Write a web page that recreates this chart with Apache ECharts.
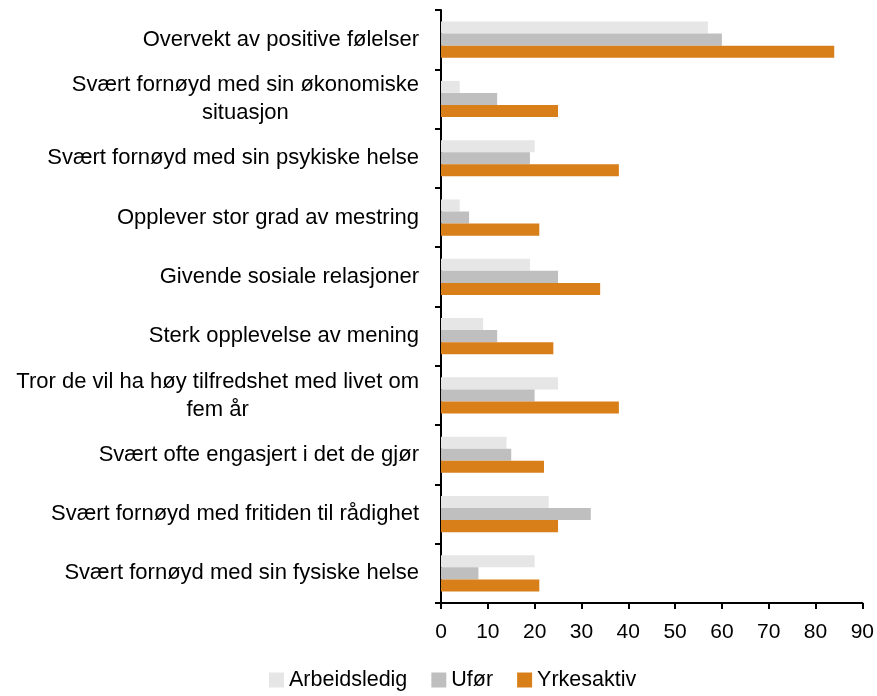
<!DOCTYPE html>
<html lang="no">
<head>
    <meta charset="UTF-8">
    <title>Chart</title>
    <script src="https://cdn.jsdelivr.net/npm/echarts@6/dist/echarts.min.js"></script>
    <style>
        html, body { margin: 0; padding: 0; background: #fff; }
    </style>
</head>
<body>
    <div id="main" style="width: 877px; height: 696px;"></div>
    <script>
        // categories top to bottom
        const categories = [
            "Overvekt av positive følelser",
            "Svært fornøyd med sin økonomiske\nsituasjon",
            "Svært fornøyd med sin psykiske helse",
            "Opplever stor grad av mestring",
            "Givende sosiale relasjoner",
            "Sterk opplevelse av mening",
            "Tror de vil ha høy tilfredshet med livet om\nfem år",
            "Svært ofte engasjert i det de gjør",
            "Svært fornøyd med fritiden til rådighet",
            "Svært fornøyd med sin fysiske helse"
        ];
        const seriesNames = ["Arbeidsledig", "Ufør", "Yrkesaktiv"];
        const arbeidsledig = [57, 4, 20, 4, 19, 9, 25, 14, 23, 20];
        const ufor = [60, 12, 19, 6, 25, 12, 20, 15, 32, 8];
        const yrkesaktiv = [84, 25, 38, 21, 34, 24, 38, 22, 25, 21];
        const xTicks = [0, 10, 20, 30, 40, 50, 60, 70, 80, 90];

        const colors = ["#e6e6e6", "#bfbfbf", "#d97f19"];
        const font = "Liberation Sans";

        const chart = echarts.init(document.getElementById("main"));
        const option = {
            animation: false,
            grid: { left: 441, right: 14, top: 10, bottom: 93 },
            legend: {
                bottom: 0,
                left: 264,
                itemWidth: 15,
                itemHeight: 15,
                itemGap: 24,
                icon: "rect",
                textStyle: { fontFamily: font, fontSize: 21.5, color: "#000" },
                data: seriesNames
            },
            xAxis: {
                type: "value",
                min: xTicks[0],
                max: xTicks[xTicks.length - 1],
                interval: 10,
                splitLine: { show: false },
                axisLine: { show: true, lineStyle: { color: "#000", width: 2 } },
                axisTick: { show: true, length: 6, lineStyle: { color: "#000", width: 2 } },
                axisLabel: { fontFamily: font, fontSize: 21, color: "#000", margin: 19 }
            },
            yAxis: {
                type: "category",
                inverse: true,
                data: categories,
                axisLine: { lineStyle: { color: "#000", width: 2 } },
                axisTick: { show: true, length: 6, lineStyle: { color: "#000", width: 2 } },
                axisLabel: {
                    margin: 22,
                    color: "#000",
                    fontFamily: font,
                    fontSize: 22,
                    lineHeight: 28,
                    formatter: function (v) {
                        if (v.indexOf("\n") < 0) return v;
                        return v.split("\n").map(s => "{c|" + s + "}").join("\n");
                    },
                    rich: {
                        c: { align: "center", fontFamily: font, fontSize: 22, lineHeight: 28, color: "#000" }
                    }
                }
            },
            series: [
                { name: seriesNames[0], data: arbeidsledig },
                { name: seriesNames[1], data: ufor },
                { name: seriesNames[2], data: yrkesaktiv }
            ].map((s, i) => Object.assign({
                type: "bar",
                barGap: "0%",
                barCategoryGap: "39%",
                itemStyle: { color: colors[i] }
            }, s))
        };
        chart.setOption(option);
    </script>
</body>
</html>
